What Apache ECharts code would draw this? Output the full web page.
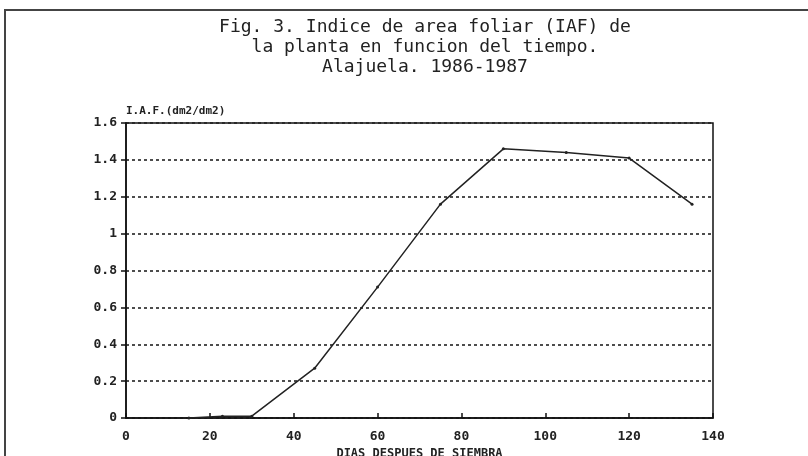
<!DOCTYPE html>
<html>
<head>
<meta charset="utf-8">
<script src="https://cdn.jsdelivr.net/npm/echarts@6/dist/echarts.min.js"></script>
<style>
html,body{margin:0;padding:0;background:#fff;}
#chart{width:808px;height:456px;}
</style>
</head>
<body>
<div id="chart"></div>
<script>
const titleLines = ['Fig. 3. Indice de area foliar (IAF) de', 'la planta en funcion del tiempo.', 'Alajuela. 1986-1987'];
const yAxisName = 'I.A.F.(dm2/dm2)';
const xAxisName = 'DIAS DESPUES DE SIEMBRA';
const days = [15, 23, 30, 45, 60, 75, 90, 105, 120, 135];
const iaf = [0, 0.01, 0.01, 0.27, 0.71, 1.16, 1.46, 1.44, 1.41, 1.16];

const chart = echarts.init(document.getElementById('chart'));
const mono = 'DejaVu Sans Mono';
chart.setOption({
  backgroundColor: '#fff',
  animation: false,
  graphic: [{
    type: 'rect',
    shape: {x: 5, y: 10, width: 1000, height: 1000},
    style: {fill: 'none', stroke: '#444', lineWidth: 2}
  }],
  title: {
    text: titleLines.join('\n'),
    left: 420, textAlign: 'center', top: 12,
    textStyle: {fontFamily: mono, fontSize: 18, fontWeight: 'normal', color: '#222', lineHeight: 20}
  },
  grid: {left: 126, right: 95, top: 123, bottom: 38, show: true, borderColor: '#111', borderWidth: 1.5,
         containLabel: false, outerBoundsMode: 'none'},
  xAxis: {
    type: 'value', min: 0, max: 140, interval: 20,
    name: xAxisName, nameLocation: 'middle', nameGap: 29,
    nameTextStyle: {fontFamily: mono, fontSize: 12, fontWeight: 'bold', color: '#222'},
    axisLine: {show: true, lineStyle: {color: '#111', width: 1.5}},
    axisTick: {show: true, inside: true, length: 5, lineStyle: {color: '#111', width: 1.5}},
    axisLabel: {fontFamily: mono, fontSize: 13, fontWeight: 'bold', color: '#222', margin: 12},
    splitLine: {show: false}
  },
  yAxis: {
    type: 'value', min: 0, max: 1.6, interval: 0.2,
    name: yAxisName, nameLocation: 'end', nameGap: 6,
    nameTextStyle: {fontFamily: mono, fontSize: 11, fontWeight: 'bold', color: '#222', align: 'left'},
    axisLine: {show: true, lineStyle: {color: '#111', width: 1.5}},
    axisTick: {show: true, inside: false, length: 5, lineStyle: {color: '#111', width: 1.5}},
    axisLabel: {fontFamily: mono, fontSize: 13, fontWeight: 'bold', color: '#222', margin: 9},
    splitLine: {show: true, lineStyle: {color: '#222', width: 1.6, type: [3, 3]}}
  },
  series: [{
    type: 'line',
    data: days.map((d, i) => [d, iaf[i]]),
    symbol: 'circle', symbolSize: 3,
    itemStyle: {color: '#222'},
    lineStyle: {color: '#222', width: 1.5}
  }]
});
</script>
</body>
</html>
